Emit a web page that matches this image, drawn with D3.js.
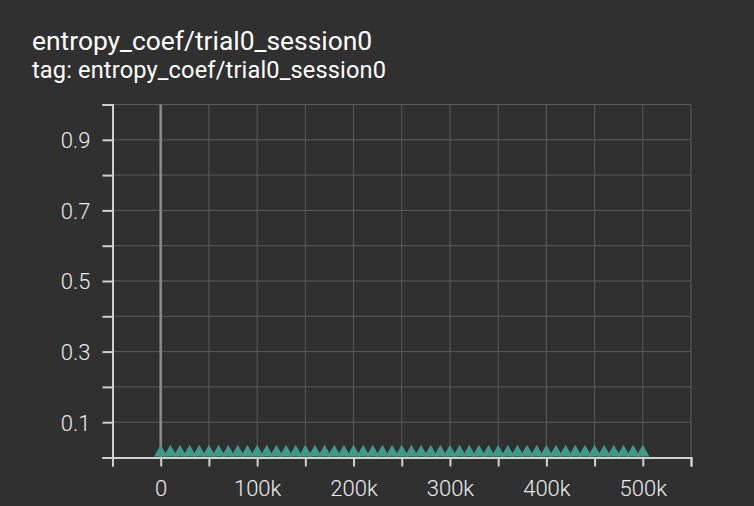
<!DOCTYPE html>
<html><head><meta charset="utf-8">
<script src="https://cdn.jsdelivr.net/npm/d3@7"></script>
<style>
html,body{margin:0;padding:0;background:#303030;}
svg{display:block;font-family:Roboto,"Noto Sans",sans-serif;}
</style></head>
<body><svg id="c" width="754" height="506"></svg>
<script>
const title = "entropy_coef/trial0_session0";
const subtitle = "tag: entropy_coef/trial0_session0";
const steps = [0,10000,20000,30000,40000,50000,60000,70000,80000,90000,100000,110000,120000,130000,140000,150000,160000,170000,180000,190000,200000,210000,220000,230000,240000,250000,260000,270000,280000,290000,300000,310000,320000,330000,340000,350000,360000,370000,380000,390000,400000,410000,420000,430000,440000,450000,460000,470000,480000,490000,500000];
const values = [0.014,0.014,0.014,0.014,0.014,0.014,0.014,0.014,0.014,0.014,0.014,0.014,0.014,0.014,0.014,0.014,0.014,0.014,0.014,0.014,0.014,0.014,0.014,0.014,0.014,0.014,0.014,0.014,0.014,0.014,0.014,0.014,0.014,0.014,0.014,0.014,0.014,0.014,0.014,0.014,0.014,0.014,0.014,0.014,0.014,0.014,0.014,0.014,0.014,0.014,0.014];
const xDomain = [-50000, 550000];
const yDomain = [0, 1];
const xTicks = [-50000,0,50000,100000,150000,200000,250000,300000,350000,400000,450000,500000,550000];
const xLabels = [0,100000,200000,300000,400000,500000];
const yTicks = [0,0.1,0.2,0.3,0.4,0.5,0.6,0.7,0.8,0.9,1.0];
const yLabels = [0.1,0.3,0.5,0.7,0.9];

const svg = d3.select("#c");
const L=112.5, R=691, T=104.5, B=457.5;
const x = d3.scaleLinear().domain(xDomain).range([L,R]);
const y = d3.scaleLinear().domain(yDomain).range([B,T]);

svg.append("text").attr("x",32).attr("y",50).attr("fill","#fff").attr("font-size",26.4).text(title);
svg.append("text").attr("x",32).attr("y",78).attr("fill","#fff").attr("font-size",23.6).attr("textLength",354).text(subtitle);

// grid
const g = svg.append("g");
g.selectAll(".vg").data(xTicks.filter(d=>d!==xDomain[0])).join("line")
 .attr("x1",d=>x(d)).attr("x2",d=>x(d)).attr("y1",T).attr("y2",B)
 .attr("stroke","#5a5a5a").attr("stroke-width",1);
g.selectAll(".hg").data(yTicks.filter(d=>d!==0)).join("line")
 .attr("x1",L).attr("x2",R).attr("y1",d=>y(d)).attr("y2",d=>y(d))
 .attr("stroke","#5a5a5a").attr("stroke-width",1);
// zero line
g.append("line").attr("x1",x(0)).attr("x2",x(0)).attr("y1",T).attr("y2",B)
 .attr("stroke","#8a8a8a").attr("stroke-width",2.5);

// markers
const sym = d3.symbol().type(d3.symbolTriangle).size(78);
svg.append("g").selectAll("path").data(steps).join("path")
 .attr("transform",(d,i)=>`translate(${x(d)},${y(values[i])})`)
 .attr("d",sym).attr("fill","#419a88");

// axes
const xa = d3.axisBottom(x).tickValues(xTicks).tickSize(9).tickFormat(d=>xLabels.includes(d)?d3.format("~s")(d):"");
const xg = svg.append("g").attr("transform",`translate(0,${B})`).call(xa);
const ya = d3.axisLeft(y).tickValues(yTicks).tickSize(10).tickFormat(d=>yLabels.includes(d)?d3.format(".1f")(d):"");
const yg = svg.append("g").attr("transform",`translate(${L},0)`).call(ya);
[xg,yg].forEach(a=>{
  a.select(".domain").attr("stroke","#d0d0d0").attr("stroke-width",2);
  a.selectAll(".tick line").attr("stroke","#d0d0d0").attr("stroke-width",2);
  a.selectAll("text").attr("fill","#ececec").attr("font-size",22).attr("font-weight",300).attr("font-family","Roboto");
});
xg.selectAll("text").attr("dy",0).attr("y",38.5);
yg.selectAll("text").attr("dy","0.36em").attr("x",-22);
</script></body></html>
